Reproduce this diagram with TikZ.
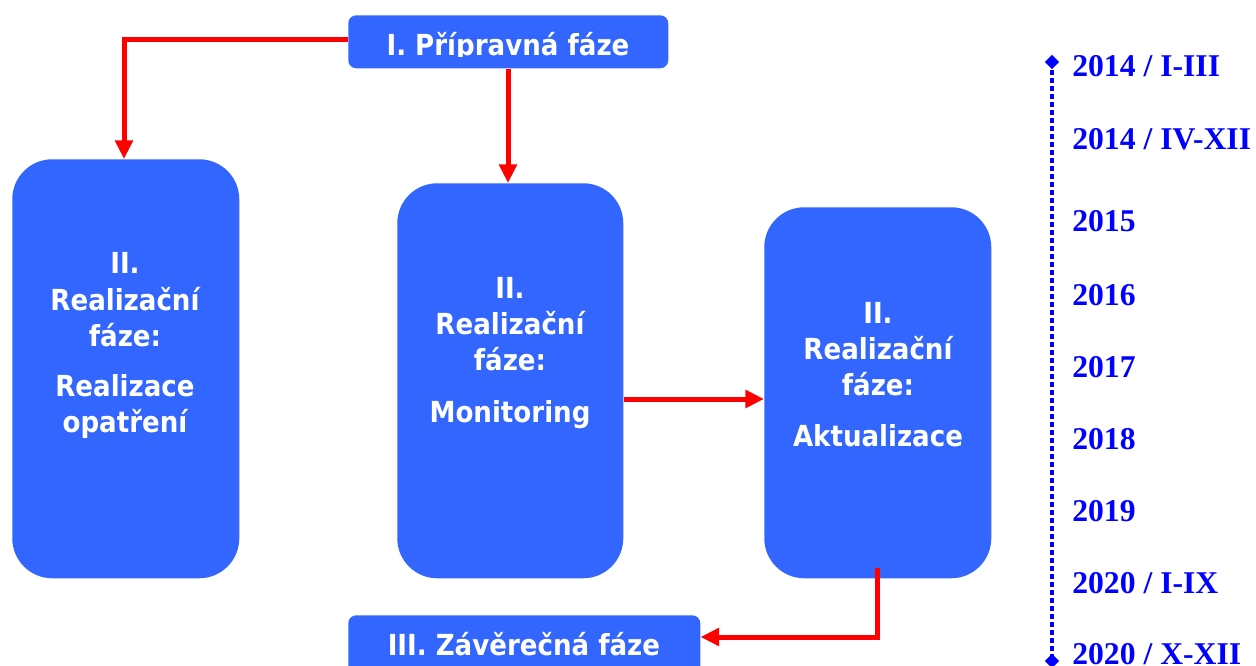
\documentclass[tikz,border=0pt]{standalone}
\usepackage{fontspec}
\usetikzlibrary{arrows.meta,shapes.geometric}
\newfontfamily\boxfont{DejaVu Sans Condensed}
\newfontfamily\yearfont{Liberation Serif}
\definecolor{boxblue}{RGB}{51,102,255}
\definecolor{pure}{RGB}{0,0,255}
\definecolor{arrred}{RGB}{255,0,0}
\tikzset{
  bigbox/.style={fill=boxblue, rounded corners=30pt, anchor=north west, inner sep=0pt},
  smallbox/.style={fill=boxblue, rounded corners=6pt, anchor=north west, inner sep=0pt},
  btext/.style={text=white, font=\boxfont\bfseries\fontsize{21.75pt}{26pt}\selectfont, anchor=base, inner sep=0pt},
  ytext/.style={text=pure, font=\yearfont\bfseries\fontsize{23.75pt}{28pt}\selectfont, anchor=base west, inner sep=0pt},
  redarrow/.style={draw=arrred, line width=3.75pt, -{Triangle[length=14pt,width=13pt]}},
}
\begin{document}
\begin{tikzpicture}[x=0.75pt,y=-0.75pt]
\useasboundingbox (0,0) rectangle (1256,666);
% boxes
\node[smallbox, minimum width=240pt, minimum height=39.75pt] (top) at (348,15) {};
\node[smallbox, minimum width=264pt, minimum height=45pt] (bot) at (348,615) {};
\node[bigbox, minimum width=170.25pt, minimum height=314.25pt] (b1) at (12,159) {};
\node[bigbox, minimum width=169.5pt, minimum height=296.25pt] (b2) at (397,183) {};
\node[bigbox, minimum width=170.25pt, minimum height=278.25pt] (b3) at (764,207) {};
% box texts
\begin{scope}
\clip (348,15) rectangle (668,57);
\node[btext] (ttop) at (508,56) {I. Přípravná fáze};
\end{scope}
\node[btext] (tbot) at (524,655) {III. Závěrečná fáze};
\node[btext] (b1a) at (125,274) {II.};
\node[btext] (b1b) at (125,311) {Realizační};
\node[btext] (b1c) at (125,347) {fáze:};
\node[btext] (b1d) at (125,397) {Realizace};
\node[btext] (b1e) at (125,432) {opatření};
\node[btext] (b2a) at (510,299) {II.};
\node[btext] (b2b) at (510,335) {Realizační};
\node[btext] (b2c) at (510,371) {fáze:};
\node[btext] (b2d) at (510,422) {Monitoring};
\node[btext] (b3a) at (878,324) {II.};
\node[btext] (b3b) at (878,359) {Realizační};
\node[btext] (b3c) at (878,395) {fáze:};
\node[btext] (b3d) at (878,446) {Aktualizace};
% arrows
\coordinate (c1) at (124,40);
\draw[redarrow] (top.west |- c1) -- (c1) -- (b1.north -| c1);
\draw[redarrow] (top.south -| 508,0) -- (b2.north -| 508,0);
\draw[redarrow] (b2.east |- 0,399) -- (b3.west |- 0,399);
\coordinate (c2) at (877,568);
\coordinate (c3) at (877,637);
\draw[redarrow] (c2) -- (c3) -- (bot.east |- c3);
% timeline
\node[diamond, fill=pure, inner sep=0pt, minimum size=11pt] (dtop) at (1052,62) {};
\node[diamond, fill=pure, inner sep=0pt, minimum size=11pt] (dbot) at (1052,661) {};
\draw[pure, line width=3.5pt, dash pattern=on 3.5pt off 2.5pt] (dtop.center) -- (dbot.center);
\node[ytext] (y1) at (1072,77) {2014 / I-III};
\node[ytext] (y2) at (1072,150) {2014 / IV-XII};
\node[ytext] (y3) at (1072,232) {2015};
\node[ytext] (y4) at (1072,306) {2016};
\node[ytext] (y5) at (1072,378) {2017};
\node[ytext] (y6) at (1072,449) {2018};
\node[ytext] (y7) at (1072,521) {2019};
\node[ytext] (y8) at (1072,593) {2020 / I-IX};
\node[ytext] (y9) at (1072,664) {2020 / X-XII};
\end{tikzpicture}
\end{document}
